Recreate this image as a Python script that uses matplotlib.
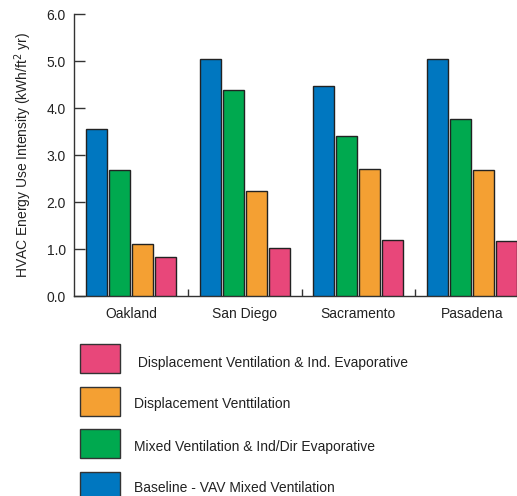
import matplotlib
matplotlib.use("Agg")
import matplotlib.pyplot as plt
from matplotlib.patches import Rectangle
import numpy as np

cities = ["Oakland", "San Diego", "Sacramento", "Pasadena"]
baseline = [3.56, 5.05, 4.47, 5.04]
mixed_evap = [2.69, 4.38, 3.40, 3.78]
displacement = [1.11, 2.24, 2.70, 2.68]
displacement_evap = [0.84, 1.03, 1.19, 1.17]

series = [baseline, mixed_evap, displacement, displacement_evap]
colors = ["#0077C0", "#00A94F", "#F4A033", "#E8477A"]
legend_labels = [
    " Displacement Ventilation & Ind. Evaporative",
    "Displacement Venttilation",
    "Mixed Ventilation & Ind/Dir Evaporative",
    "Baseline - VAV Mixed Ventilation",
]
legend_colors = ["#E8477A", "#F4A033", "#00A94F", "#0077C0"]
yticks = [0.0, 1.0, 2.0, 3.0, 4.0, 5.0, 6.0]

plt.rcParams["font.family"] = ["Liberation Sans", "DejaVu Sans"]
FS = 10

W, H = 517, 496
fig = plt.figure(figsize=(W / 100, H / 100), dpi=100)
ax = fig.add_axes([74 / W, 200 / H, 455 / W, 281.7 / H])

x = np.arange(len(cities))
step = 0.202
width = 0.185
for i, (vals, c) in enumerate(zip(series, colors)):
    off = (i - 1.5) * step
    ax.bar(x + off, vals, width=width, color=c, edgecolor="#222222", linewidth=1.0, zorder=3)

ax.set_xlim(-0.5, 3.5)
ax.set_ylim(0, 6.0)
ax.set_yticks(yticks)
ax.set_yticklabels([f"{v:.1f}" for v in yticks], fontsize=FS, color="#222222")
ax.set_xticks(x)
ax.set_xticklabels(cities, fontsize=FS, color="#222222")
ax.set_xticks([0.5, 1.5, 2.5], minor=True)
ax.tick_params(axis="x", which="major", length=0, pad=8)
ax.tick_params(axis="x", which="minor", direction="in", length=5, width=1, color="#333333")
ax.tick_params(axis="y", direction="in", length=8, width=1, pad=6, color="#333333")
for s in ["top", "right"]:
    ax.spines[s].set_visible(False)
for s in ["left", "bottom"]:
    ax.spines[s].set_color("#333333")
    ax.spines[s].set_linewidth(1.0)
ax.set_ylabel("HVAC Energy Use Intensity (kWh/ft$^2$ yr)", fontsize=FS, color="#222222")
ax.yaxis.set_label_coords(-0.089, 0.5)

# legend drawn manually
box_tops = [344, 387, 429, 472]
text_y = [363, 404, 447, 488]
for top, ty, lab, c in zip(box_tops, text_y, legend_labels, legend_colors):
    fig.patches.append(Rectangle((80 / W, 1 - (top + 29) / H), 40 / W, 29 / H,
                                 transform=fig.transFigure, facecolor=c,
                                 edgecolor="#333333", linewidth=1.0))
    fig.text(134 / W, 1 - ty / H, lab, fontsize=FS, color="#222222",
             va="center", ha="left")

fig.savefig("out.png", dpi=100)
